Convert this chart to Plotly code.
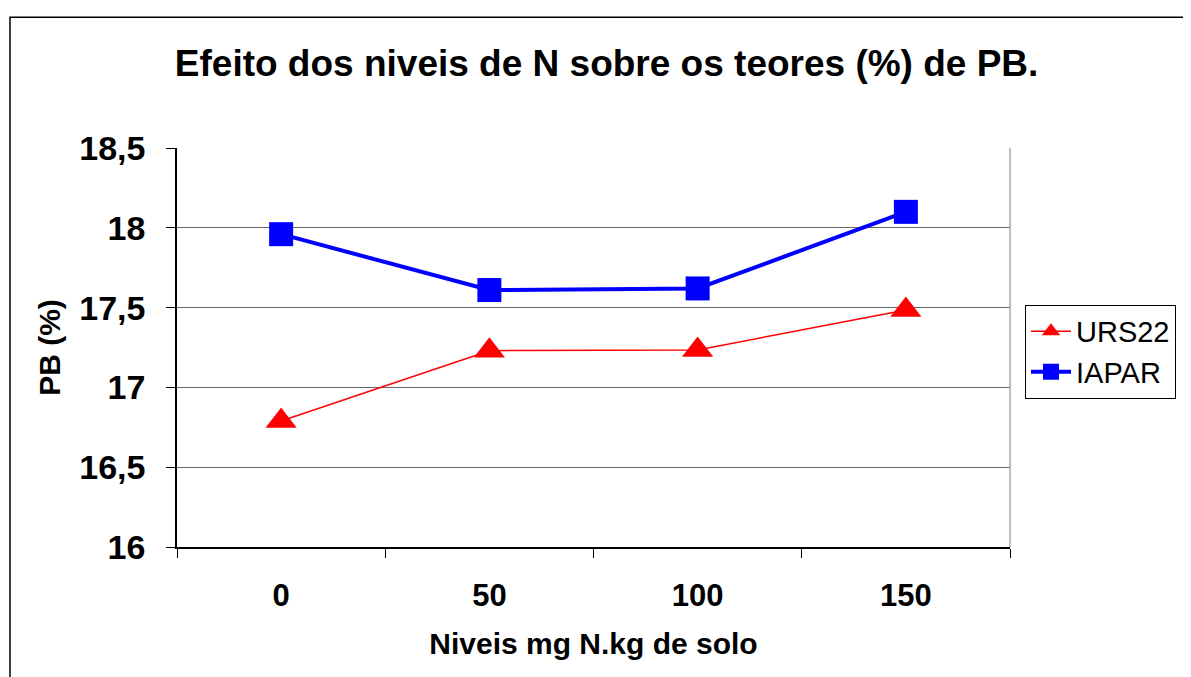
import plotly.graph_objects as go

niveis = ["0", "50", "100", "150"]
urs22 = [16.79, 17.23, 17.235, 17.485]
iapar = [17.96, 17.61, 17.62, 18.10]

y_ticks = [16, 16.5, 17, 17.5, 18, 18.5]
y_tick_labels = ["16", "16,5", "17", "17,5", "18", "18,5"]

FONT = "Liberation Sans, Arial, sans-serif"

fig = go.Figure()
fig.add_trace(
    go.Scatter(
        x=niveis,
        y=urs22,
        mode="lines+markers",
        name="URS22",
        line=dict(color="#ff0000", width=1.5),
        marker=dict(symbol="triangle-up", size=27, color="#ff0000"),
    )
)
fig.add_trace(
    go.Scatter(
        x=niveis,
        y=iapar,
        mode="lines+markers",
        name="IAPAR",
        line=dict(color="#0000ff", width=4),
        marker=dict(symbol="square", size=24, color="#0000ff"),
    )
)

# outer chart border (left and top edges visible in the reference)
fig.add_shape(
    type="rect", xref="paper", yref="paper",
    x0=-0.2005, x1=1.3, y0=-0.5, y1=1.328,
    line=dict(color="#000000", width=1.5), layer="below",
)
# right edge of plot area
fig.add_shape(
    type="line", xref="paper", yref="paper",
    x0=1, x1=1, y0=0, y1=1,
    line=dict(color="#808080", width=1),
)

# the page puts the figure 8px in from the corner, so the figure is 8px smaller
fig.update_layout(
    width=1183,
    height=669,
    margin=dict(l=169, r=181, t=140, b=130),
    paper_bgcolor="white",
    plot_bgcolor="white",
    font=dict(family=FONT, color="black"),
    title=dict(
        text="<b>Efeito dos niveis de N sobre os teores (%) de PB.</b>",
        x=0.506, xanchor="center", y=0.918, yanchor="middle",
        font=dict(size=37),
    ),
    showlegend=True,
    legend=dict(
        x=1.018, xanchor="left", y=0.607, yanchor="top",
        bordercolor="black", borderwidth=1,
        font=dict(size=29),
        itemwidth=40,
        tracegroupgap=0,
    ),
)

fig.update_xaxes(
    type="category",
    range=[-0.5, 3.5],
    tickson="boundaries",
    ticks="outside",
    ticklen=9,
    tickcolor="black",
    showline=True,
    linecolor="black",
    linewidth=1.5,
    showgrid=False,
    tickfont=dict(size=31, weight="bold"),
    ticklabelstandoff=20,
    title=dict(text="<b>Niveis mg N.kg de solo</b>", font=dict(size=30), standoff=21),
)
fig.update_yaxes(
    range=[16, 18.5],
    tickvals=y_ticks,
    ticktext=y_tick_labels,
    ticks="outside",
    ticklen=9,
    tickcolor="black",
    showline=True,
    linecolor="black",
    linewidth=1.5,
    showgrid=True,
    gridcolor="#666666",
    gridwidth=1,
    zeroline=False,
    tickfont=dict(size=34, weight="bold"),
    ticklabelstandoff=14,
    title=dict(text="<b>PB (%)</b>", font=dict(size=30), standoff=10),
)

fig.write_html("out.html")
